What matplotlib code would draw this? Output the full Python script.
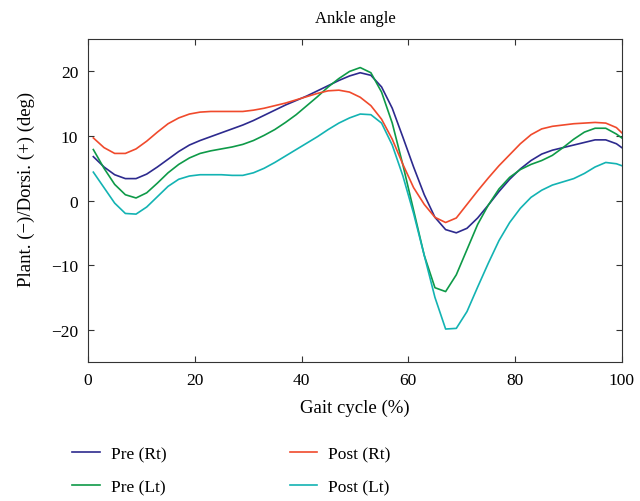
import numpy as np
import matplotlib
matplotlib.use("Agg")
import matplotlib.pyplot as plt

plt.rcParams["font.family"] = ["Liberation Serif", "DejaVu Serif"]

gait = [1, 3, 5, 7, 9, 11, 13, 15, 17, 19, 21, 23, 25, 27, 29, 31, 33, 35, 37, 39,
        41, 43, 45, 47, 49, 51, 53, 55, 57, 59, 61, 63, 65, 67, 69, 71, 73, 75, 77, 79,
        81, 83, 85, 87, 89, 91, 93, 95, 97, 99, 100]

pre_rt = [6.8, 5.2, 4.0, 3.4, 3.4, 4.1, 5.2, 6.4, 7.6, 8.6, 9.3, 9.9, 10.5, 11.1, 11.7,
          12.4, 13.2, 14.0, 14.8, 15.5, 16.2, 17.0, 17.8, 18.6, 19.3, 19.8, 19.4, 17.6,
          14.3, 9.8, 5.2, 0.9, -2.6, -4.5, -5.0, -4.3, -2.7, -0.7, 1.4, 3.3, 4.9, 6.2,
          7.2, 7.8, 8.2, 8.6, 9.0, 9.4, 9.4, 8.8, 8.2]

post_rt = [9.7, 8.2, 7.3, 7.3, 8.0, 9.2, 10.6, 11.9, 12.8, 13.4, 13.7, 13.8, 13.8, 13.8,
           13.8, 14.0, 14.3, 14.7, 15.1, 15.6, 16.1, 16.6, 17.0, 17.1, 16.8, 16.0, 14.7,
           12.6, 9.5, 5.6, 2.0, -0.6, -2.6, -3.4, -2.7, -0.6, 1.5, 3.5, 5.4, 7.1, 8.8,
           10.2, 11.1, 11.5, 11.7, 11.9, 12.0, 12.1, 12.0, 11.3, 10.5]

pre_lt = [7.9, 5.0, 2.5, 0.9, 0.4, 1.2, 2.7, 4.3, 5.6, 6.6, 7.3, 7.7, 8.0, 8.3, 8.7, 9.3,
          10.1, 11.0, 12.1, 13.3, 14.7, 16.1, 17.6, 18.9, 20.0, 20.6, 19.8, 16.8, 12.0,
          5.5, -1.5, -8.5, -13.5, -14.1, -11.5, -7.6, -3.7, -0.7, 1.8, 3.6, 4.8, 5.6,
          6.2, 7.0, 8.2, 9.5, 10.6, 11.2, 11.2, 10.3, 9.7]

post_lt = [4.4, 2.0, -0.4, -2.0, -2.1, -1.0, 0.6, 2.2, 3.3, 3.8, 4.0, 4.0, 4.0, 3.9, 3.9,
           4.3, 5.0, 5.9, 6.9, 7.9, 8.9, 9.9, 11.0, 12.0, 12.8, 13.4, 13.3, 12.0, 8.6,
           3.8, -2.0, -8.5, -15.0, -19.9, -19.8, -17.2, -13.4, -9.7, -6.2, -3.4, -1.2,
           0.5, 1.6, 2.4, 2.9, 3.4, 4.2, 5.2, 5.9, 5.7, 5.4]

fig = plt.figure(figsize=(6.4, 5.02), dpi=100)
ax = fig.add_axes([0.1375, 0.277, 0.834, 0.643])

l1, = ax.plot(gait, pre_rt, color="#2d2a8e", lw=1.2, label="Pre (Rt)")
l2, = ax.plot(gait, pre_lt, color="#0e9a48", lw=1.2, label="Pre (Lt)")
l3, = ax.plot(gait, post_rt, color="#f04a2c", lw=1.2, label="Post (Rt)")
l4, = ax.plot(gait, post_lt, color="#13b3b3", lw=1.2, label="Post (Lt)")

ax.set_xlim(0, 100)
ax.set_ylim(-25, 25)
ax.set_xticks([0, 20, 40, 60, 80, 100])
ax.set_yticks([-20, -10, 0, 10, 20])
ax.tick_params(direction="in", top=True, right=True, labelsize=12.5, length=4,
               pad=7, color="#333333")
for s in ax.spines.values():
    s.set_color("#333333")
ax.set_title("Ankle angle", fontsize=12, pad=12)
ax.set_xlabel("Gait cycle (%)", fontsize=13.5, labelpad=8)
ax.set_ylabel("Plant. (\u2212)/Dorsi. (+) (deg)", fontsize=13.5)
ax.yaxis.set_label_coords(-0.10, 0.539)

fig.legend(handles=[l1, l2, l3, l4], ncol=2, frameon=False, fontsize=12.5,
           loc="upper left", bbox_to_anchor=(0.1125, 0.11), borderaxespad=0,
           borderpad=0, handlelength=1.6, handletextpad=0.63, columnspacing=7.1,
           labelspacing=1.0)

fig.savefig("out.png", dpi=100)
